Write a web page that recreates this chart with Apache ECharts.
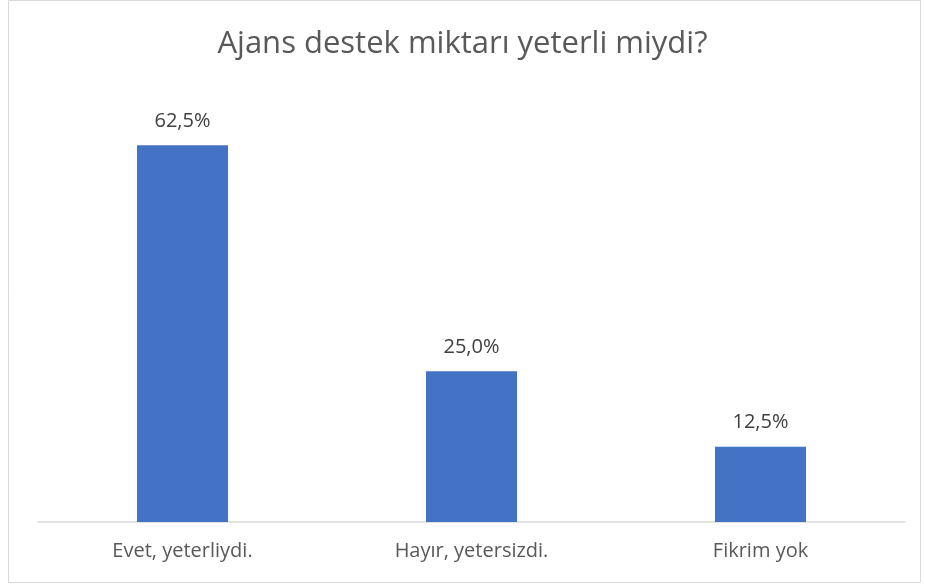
<!DOCTYPE html>
<html>
<head>
<meta charset="utf-8">
<script src="https://cdn.jsdelivr.net/npm/echarts@6/dist/echarts.min.js"></script>
<style>
  html, body { margin: 0; padding: 0; background: #fff; }
  #chart { width: 925px; height: 585px; }
</style>
</head>
<body>
<div id="chart"></div>
<script>
// chart data
const categories = ['Evet, yeterliydi.', 'Hayır, yetersizdi.', 'Fikrim yok'];
const percentValues = [62.5, 25.0, 12.5];

const chart = echarts.init(document.getElementById('chart'));

chart.setOption({
    animation: false,
    backgroundColor: '#fff',
    textStyle: { fontFamily: 'Open Sans' },
    title: {
        text: 'Ajans destek miktarı yeterli miydi?',
        left: 'center',
        top: 24,
        textStyle: { fontSize: 31, fontWeight: 'normal', color: '#595959', fontFamily: 'Open Sans' }
    },
    // outer chart border
    graphic: [{
        type: 'rect',
        shape: { x: 8.5, y: 0.5, width: 912, height: 582 },
        style: { fill: 'none', stroke: '#d9d9d9', lineWidth: 1 },
        silent: true
    }],
    grid: { left: 38, right: 20, top: 100, bottom: 63 },
    xAxis: {
        type: 'category',
        data: categories,
        axisLine: { lineStyle: { color: '#d9d9d9', width: 1.5 } },
        axisTick: { show: false },
        axisLabel: { color: '#595959', fontSize: 20, margin: 19 }
    },
    yAxis: {
        type: 'value',
        min: 0,
        max: 70,
        show: false,
        splitLine: { show: false }
    },
    series: [{
        type: 'bar',
        data: percentValues,
        barWidth: '31.5%',
        itemStyle: { color: '#4472C4' },
        label: {
            show: true,
            position: 'top',
            distance: 14,
            color: '#404040',
            fontSize: 20,
            formatter: p => p.value.toFixed(1).replace('.', ',') + '%'
        }
    }]
});
</script>
</body>
</html>
